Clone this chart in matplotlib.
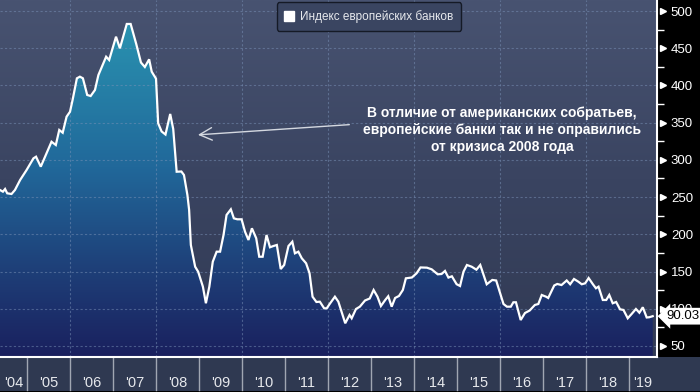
import matplotlib
matplotlib.use('Agg')
import matplotlib.pyplot as plt
import numpy as np
from matplotlib.colors import LinearSegmentedColormap
from matplotlib.lines import Line2D
from matplotlib.transforms import ScaledTranslation

plt.rcParams['font.family'] = ['Liberation Sans', 'DejaVu Sans']

# European banks index (decimal year, index value)
dates = [2004.37, 2004.44, 2004.49, 2004.54, 2004.64, 2004.72, 2004.84, 2004.99,
         2005.15, 2005.21, 2005.32, 2005.42, 2005.57, 2005.67, 2005.75, 2005.83,
         2005.92, 2006.00, 2006.06, 2006.16, 2006.23, 2006.30, 2006.40, 2006.48,
         2006.58, 2006.66, 2006.84, 2006.91, 2007.07, 2007.16, 2007.32, 2007.41,
         2007.54, 2007.65, 2007.74, 2007.84, 2007.90, 2008.00, 2008.05, 2008.13,
         2008.22, 2008.33, 2008.40, 2008.48, 2008.59, 2008.65, 2008.73, 2008.77,
         2008.81, 2008.91, 2008.98, 2009.09, 2009.16, 2009.24, 2009.32, 2009.41,
         2009.49, 2009.57, 2009.64, 2009.74, 2009.81, 2009.89, 2009.99, 2010.07,
         2010.15, 2010.23, 2010.33, 2010.40, 2010.48, 2010.57, 2010.65, 2010.73,
         2010.81, 2010.90, 2010.98, 2011.08, 2011.17, 2011.23, 2011.31, 2011.39,
         2011.49, 2011.57, 2011.64, 2011.73, 2011.81, 2011.91, 2011.97, 2012.05,
         2012.16, 2012.24, 2012.40, 2012.50, 2012.55, 2012.65, 2012.74, 2012.86,
         2012.97, 2013.06, 2013.15, 2013.23, 2013.33, 2013.40, 2013.48, 2013.56,
         2013.65, 2013.74, 2013.81, 2013.95, 2014.06, 2014.15, 2014.30, 2014.41,
         2014.55, 2014.64, 2014.72, 2014.80, 2014.88, 2014.99, 2015.07, 2015.15,
         2015.23, 2015.34, 2015.45, 2015.54, 2015.69, 2015.77, 2015.82, 2015.91,
         2016.08, 2016.16, 2016.25, 2016.31, 2016.37, 2016.48, 2016.58, 2016.69,
         2016.81, 2016.89, 2016.97, 2017.07, 2017.12, 2017.26, 2017.33, 2017.43,
         2017.55, 2017.63, 2017.72, 2017.82, 2017.90, 2017.98, 2018.06, 2018.16,
         2018.23, 2018.29, 2018.39, 2018.47, 2018.54, 2018.62, 2018.70, 2018.79,
         2018.87, 2018.97, 2019.06, 2019.16, 2019.24, 2019.32, 2019.41, 2019.47,
         2019.55]
values = [259.6, 257.3, 260.9, 255.1, 254.2, 259.6, 273.0, 286.4,
          302.1, 304.3, 290.9, 304.3, 324.4, 320.0, 340.2, 336.5,
          358.0, 364.7, 380.5, 409.6, 411.8, 409.6, 387.2, 385.8,
          393.9, 414.0, 438.6, 434.2, 465.5, 449.9, 482.6, 482.6,
          455.7, 430.8, 424.8, 435.1, 418.5, 409.1, 349.2, 338.2,
          334.1, 361.7, 341.5, 284.1, 284.4, 279.7, 252.8, 232.7,
          185.7, 156.5, 149.8, 129.7, 107.4, 129.7, 163.2, 176.7,
          176.7, 199.1, 226.0, 233.6, 221.5, 220.2, 220.2, 203.5,
          192.4, 208.1, 194.7, 169.9, 169.9, 199.1, 182.6, 184.3,
          185.7, 153.4, 158.8, 184.3, 190.1, 174.5, 176.7, 167.8,
          161.1, 147.7, 116.2, 109.1, 109.5, 100.6, 100.6, 107.4,
          116.2, 109.5, 80.5, 91.6, 87.2, 99.7, 102.8, 111.1,
          113.8, 125.2, 116.2, 103.7, 111.8, 116.8, 102.8, 114.5,
          117.2, 125.2, 140.9, 142.0, 147.7, 155.5, 155.2, 153.0,
          146.3, 146.7, 150.8, 141.9, 143.6, 133.0, 130.6, 149.8,
          158.8, 156.5, 152.5, 158.8, 132.9, 136.4, 138.7, 138.0,
          106.4, 102.8, 102.8, 108.7, 108.7, 84.9, 94.3, 97.7,
          105.1, 106.4, 118.5, 116.2, 114.5, 131.3, 133.3, 131.9,
          138.0, 132.9, 140.0, 136.4, 132.9, 134.2, 141.3, 132.9,
          127.5, 129.7, 111.8, 111.8, 118.5, 107.4, 109.1, 99.3,
          98.4, 87.2, 93.0, 99.7, 94.7, 102.0, 88.3, 88.6,
          90.03]
last_value = 90.03
series_label = 'Индекс европейских банков'
note = ('В отличие от американских собратьев,\n'
        'европейские банки так и не оправились\n'
        'от кризиса 2008 года')
years = list(range(2004, 2020))
y_ticks = list(range(50, 501, 50))

xmin, xmax = 2004.372, 2019.65
ymin, ymax = 35.2, 514.8

fig = plt.figure(figsize=(7, 3.92), dpi=100, facecolor='black')
# strip with year labels (drawn under the axes)
fig.patches.append(plt.Rectangle((0, 0.003), 1, 34 / 392, transform=fig.transFigure,
                                 facecolor='#2f3951', edgecolor='none', zorder=-1))
ax = fig.add_axes([0, 35 / 392, 657 / 700, 357 / 392])
ax.set_xlim(xmin, xmax)
ax.set_ylim(ymin, ymax)

# background gradient
bg_cmap = LinearSegmentedColormap.from_list('bg', ['#313a54', '#3a4461', '#485371'])
grad = np.linspace(0, 1, 256).reshape(-1, 1)
ax.imshow(grad, extent=[xmin, xmax, ymin, ymax], origin='lower', aspect='auto',
          cmap=bg_cmap, zorder=0)

# gradient fill under curve
fill_cmap = LinearSegmentedColormap.from_list(
    'fill', [(0, '#1a205e'), (0.25, '#1e3f78'), (0.55, '#21689a'), (1.0, '#2a96b2')])
poly = ax.fill_between(dates, values, ymin, color='none', lw=0)
im = ax.imshow(grad, extent=[xmin, xmax, ymin, 500], origin='lower', aspect='auto',
               cmap=fill_cmap, zorder=1)
im.set_clip_path(poly.get_paths()[0], transform=ax.transData)

# dotted grid
for v in y_ticks:
    ax.axhline(v, color='#7b93b8', alpha=0.5, lw=0.8, ls=(0, (2, 2)), zorder=2)
for yr in range(2006, 2019, 2):
    ax.axvline(yr, color='#7b93b8', alpha=0.5, lw=0.8, ls=(0, (2, 2)), zorder=2)

ax.plot(dates, values, color='white', lw=1.6, zorder=3, solid_joinstyle='miter')

# spines
for s in ['left', 'top']:
    ax.spines[s].set_visible(False)
for s in ['bottom', 'right']:
    ax.spines[s].set_color('white')
    ax.spines[s].set_linewidth(1.5)

# right y axis
ax.set_xticks([])
ax.yaxis.tick_right()
ax.set_yticks(y_ticks)
ax.set_yticklabels([str(v) for v in y_ticks])
ax.set_yticks(list(range(75, 501, 50)), minor=True)
ax.tick_params(axis='y', which='major', length=0, pad=10, labelcolor='white', labelsize=9.5)
ax.tick_params(axis='y', which='minor', length=5, width=1, color='white')
tri_trans = ax.get_yaxis_transform() + ScaledTranslation(4 / 72, 0, fig.dpi_scale_trans)
ax.plot([1.0] * len(y_ticks), y_ticks, ls='none', marker='>', ms=5, color='white',
        transform=tri_trans, clip_on=False, zorder=4)

# last value tag
ax.annotate(f'{last_value:.2f}', xy=(1.0, last_value), xycoords=ax.get_yaxis_transform(),
            xytext=(7, 0), textcoords='offset points', ha='left', va='center',
            fontsize=9.5, color='black', annotation_clip=False, zorder=6,
            bbox=dict(boxstyle='larrow,pad=0.18', fc='white', ec='none'))

# year strip: separators and labels
xtr = ax.get_xaxis_transform()
for yr in years:
    if xmin < yr < xmax:
        ax.plot([yr, yr], [-0.092, 0], color='#a0a6b2', lw=1, transform=xtr, clip_on=False)
    mid = (max(yr, xmin) + min(yr + 1, xmax)) / 2
    ax.text(mid, -0.074, "'" + str(yr)[2:], transform=xtr, ha='center', va='center',
            color='#e6e8ec', fontsize=10.5, clip_on=False)

# legend
h = Line2D([], [], ls='none', marker='s', ms=7.5, color='white')
leg = ax.legend([h], [series_label], loc='upper left', bbox_to_anchor=(277 / 657, 0.993),
                fontsize=8.5, labelcolor='#e6e8ec', facecolor='#3a4561', edgecolor='#151a26',
                framealpha=1, handlelength=0.8, handletextpad=0.5, borderpad=0.65,
                borderaxespad=0)
leg.get_frame().set_linewidth(1.0)
leg.set_zorder(5)

# annotation with arrow
ax.text(2016.05, 340, note, ha='center', va='center', color='white', fontsize=10,
        fontweight='bold', linespacing=1.25, zorder=5)
ax.annotate('', xy=(2008.91, 333.4), xytext=(2012.56, 347.6),
            arrowprops=dict(arrowstyle='->,head_length=0.9,head_width=0.45',
                            color='#d4d8e0', lw=1.0), zorder=5)

fig.savefig('out.png', dpi=100, facecolor='black')
